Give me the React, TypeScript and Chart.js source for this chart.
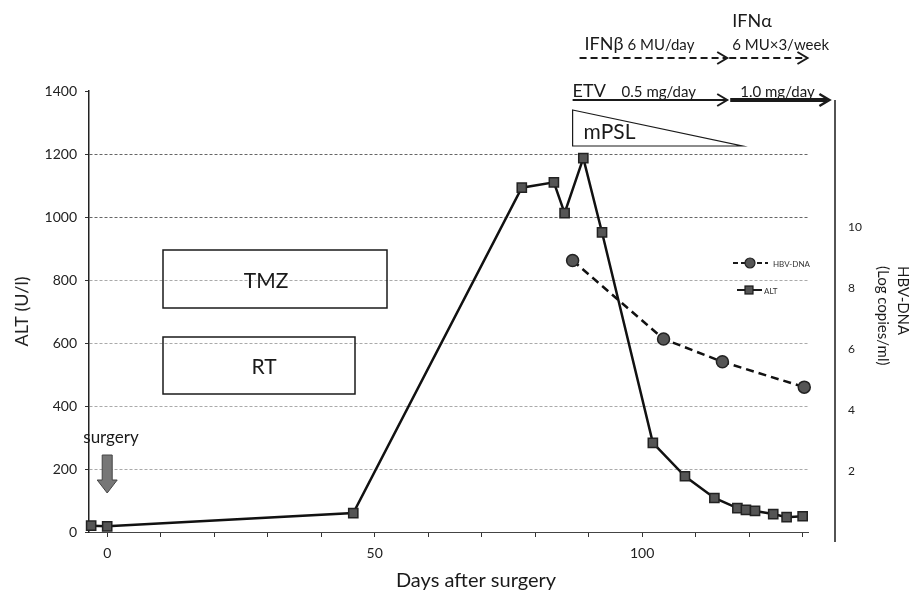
import React, { useEffect, useRef } from "react";
import { Chart, registerables } from "chart.js";

Chart.register(...registerables);

// ---- data ----
const altDays = [-3, 0, 46, 77.5, 83.5, 85.5, 89, 92.5, 102, 108, 113.5, 117.8, 119.4, 121.1, 124.5, 127, 130];
const altValues = [20, 18, 60, 1093, 1110, 1012, 1187, 951, 283, 177, 108, 76, 70, 67, 57, 47, 50];
const hbvDays = [87, 104, 115, 130.3];
const hbvValues = [8.9, 6.33, 5.58, 4.75];
const xTicks = [0, 10, 20, 30, 40, 50, 60, 70, 80, 90, 100, 110, 120, 130];
const xLabelled = [0, 50, 100];
const altTicks = [0, 200, 400, 600, 800, 1000, 1200, 1400];
const hbvTicks = [2, 4, 6, 8, 10];

// treatment periods (days after surgery)
const ifnbStart = 88.3;
const ifnSwitch = 115.9;
const ifnEnd = 130.9;
const etvStart = 87;
const etvSwitch = 115.9;
const etvEnd = 135;
const mpslStart = 87;
const mpslEnd = 118.7;
const surgeryDay = 0;

const FONT = "Lato, 'Open Sans', 'DejaVu Sans', sans-serif";

function chevron(ctx: CanvasRenderingContext2D, tipX: number, y: number, w: number) {
  ctx.save();
  ctx.setLineDash([]);
  ctx.lineWidth = w;
  ctx.beginPath();
  ctx.moveTo(tipX - 10, y - 6);
  ctx.lineTo(tipX, y);
  ctx.lineTo(tipX - 10, y + 6);
  ctx.stroke();
  ctx.restore();
}

export default function App() {
  const ref = useRef<HTMLCanvasElement>(null);

  useEffect(() => {
    const canvas = ref.current!;
    const annot = {
      id: "annot",
      afterDraw(chart: any) {
        const ctx: CanvasRenderingContext2D = chart.ctx;
        const xs = chart.scales.x;
        const X = (d: number) => xs.getPixelForValue(d);
        const ink = "#1a1a1a";
        ctx.save();
        ctx.fillStyle = ink;
        ctx.strokeStyle = ink;

        // right axis line (offset from plot)
        ctx.lineWidth = 1.5;
        ctx.beginPath();
        ctx.moveTo(835, 100);
        ctx.lineTo(835, 542);
        ctx.stroke();

        // right axis title
        ctx.save();
        ctx.translate(903, 266);
        ctx.rotate(Math.PI / 2);
        ctx.font = `15px ${FONT}`;
        ctx.textAlign = "left";
        ctx.textBaseline = "middle";
        ctx.fillText("HBV-DNA", 0, 0);
        ctx.fillText("(Log copies/ml)", 0, 20);
        ctx.restore();

        // x title
        ctx.font = `20px ${FONT}`;
        ctx.textAlign = "center";
        ctx.textBaseline = "middle";
        ctx.fillText("Days after surgery", 476, 581);

        // TMZ / RT boxes
        ctx.lineWidth = 1.5;
        ctx.strokeRect(163, 250, 224, 58);
        ctx.strokeRect(163, 337, 192, 57);
        ctx.font = `21px ${FONT}`;
        ctx.fillText("TMZ", 266, 281);
        ctx.fillText("RT", 264, 367);

        // surgery
        ctx.font = `17px ${FONT}`;
        ctx.fillText("surgery", 111, 438);
        const sx = X(surgeryDay);
        ctx.fillStyle = "#777";
        ctx.strokeStyle = "#444";
        ctx.lineWidth = 1;
        ctx.beginPath();
        ctx.moveTo(sx - 5, 455);
        ctx.lineTo(sx + 5, 455);
        ctx.lineTo(sx + 5, 480);
        ctx.lineTo(sx + 10, 480);
        ctx.lineTo(sx, 493);
        ctx.lineTo(sx - 10, 480);
        ctx.lineTo(sx - 5, 480);
        ctx.closePath();
        ctx.fill();
        ctx.stroke();
        ctx.fillStyle = ink;
        ctx.strokeStyle = ink;

        // IFN annotations
        ctx.textAlign = "left";
        ctx.font = `18px ${FONT}`;
        ctx.fillText("IFNα", X(ifnSwitch) + 5, 21);
        ctx.fillText("IFNβ", X(ifnbStart) + 5, 44);
        const wB = ctx.measureText("IFNβ").width;
        ctx.font = `15px ${FONT}`;
        ctx.fillText("6 MU/day", X(ifnbStart) + 5 + wB + 4, 45);
        ctx.fillText("6 MU×3/week", X(ifnSwitch) + 5, 45);
        ctx.lineWidth = 2.2;
        ctx.setLineDash([7, 4]);
        ctx.beginPath();
        ctx.moveTo(X(ifnbStart), 58);
        ctx.lineTo(X(ifnSwitch), 58);
        ctx.moveTo(X(ifnSwitch) + 2, 58);
        ctx.lineTo(X(ifnEnd), 58);
        ctx.stroke();
        ctx.setLineDash([]);
        chevron(ctx, X(ifnSwitch), 58, 2);
        chevron(ctx, X(ifnEnd), 58, 2);

        // ETV
        ctx.font = `18px ${FONT}`;
        ctx.fillText("ETV", X(etvStart), 91);
        ctx.font = `15px ${FONT}`;
        ctx.fillText("0.5 mg/day", X(etvStart) + 49, 92);
        ctx.fillText("1.0 mg/day", X(etvSwitch) + 13, 92);
        ctx.lineWidth = 2;
        ctx.beginPath();
        ctx.moveTo(X(etvStart), 100);
        ctx.lineTo(X(etvSwitch), 100);
        ctx.stroke();
        chevron(ctx, X(etvSwitch), 100, 2);
        ctx.lineWidth = 4;
        ctx.beginPath();
        ctx.moveTo(X(etvSwitch) + 3, 100);
        ctx.lineTo(X(etvEnd) - 2, 100);
        ctx.stroke();
        chevron(ctx, X(etvEnd), 100, 2.5);

        // mPSL triangle
        ctx.lineWidth = 1.2;
        ctx.beginPath();
        ctx.moveTo(X(mpslStart), 110);
        ctx.lineTo(X(mpslEnd), 146);
        ctx.lineTo(X(mpslStart), 146);
        ctx.closePath();
        ctx.stroke();
        ctx.font = `21px ${FONT}`;
        ctx.fillText("mPSL", X(mpslStart) + 11, 132);

        // legend
        ctx.lineWidth = 2;
        ctx.setLineDash([5, 3]);
        ctx.beginPath();
        ctx.moveTo(733, 263);
        ctx.lineTo(768, 263);
        ctx.stroke();
        ctx.setLineDash([]);
        ctx.fillStyle = "#555";
        ctx.strokeStyle = "#222";
        ctx.lineWidth = 1.2;
        ctx.beginPath();
        ctx.arc(750, 263, 5, 0, Math.PI * 2);
        ctx.fill();
        ctx.stroke();
        ctx.strokeStyle = ink;
        ctx.lineWidth = 2;
        ctx.beginPath();
        ctx.moveTo(737, 290);
        ctx.lineTo(762, 290);
        ctx.stroke();
        ctx.fillStyle = "#555";
        ctx.lineWidth = 1.2;
        ctx.fillRect(745, 286, 8, 8);
        ctx.strokeRect(745, 286, 8, 8);
        ctx.fillStyle = "#333";
        ctx.font = `8px ${FONT}`;
        ctx.fillText("HBV-DNA", 773, 264);
        ctx.fillText("ALT", 764, 291);

        ctx.restore();
      },
    };

    const chart = new Chart(canvas, {
      type: "line",
      data: {
        datasets: [
          {
            label: "HBV-DNA",
            data: hbvDays.map((d, i) => ({ x: d, y: hbvValues[i] })),
            yAxisID: "y2",
            borderColor: "#111",
            borderWidth: 2.5,
            borderDash: [8, 5],
            pointStyle: "circle",
            pointRadius: 6,
            pointBackgroundColor: "#555",
            pointBorderColor: "#222",
            pointBorderWidth: 1.5,
            tension: 0,
            clip: false,
          },
          {
            label: "ALT",
            data: altDays.map((d, i) => ({ x: d, y: altValues[i] })),
            yAxisID: "y",
            borderColor: "#111",
            borderWidth: 2.5,
            pointStyle: "rect",
            pointRadius: 6.5,
            pointBackgroundColor: "#555",
            pointBorderColor: "#222",
            pointBorderWidth: 1.5,
            tension: 0,
            clip: false,
          },
        ],
      },
      options: {
        animation: false,
        responsive: false,
        devicePixelRatio: 1,
        layout: { padding: { top: 91, left: 0, right: 0, bottom: 0 } },
        plugins: { legend: { display: false }, tooltip: { enabled: false } },
        scales: {
          x: {
            type: "linear",
            min: -3.4,
            max: 131,
            afterBuildTicks: (s: any) => {
              s.ticks = xTicks.map((v) => ({ value: v }));
            },
            afterFit: (s: any) => {
              s.height = 61;
            },
            ticks: {
              autoSkip: false,
              maxRotation: 0,
              padding: 8,
              font: { family: FONT, size: 14 },
              color: "#222",
              callback: (v: any) => (xLabelled.includes(Number(v)) ? String(v) : ""),
            },
            grid: { drawOnChartArea: false, drawTicks: true, tickLength: 5, tickColor: "#333", color: "#333" },
            border: { color: "#444", width: 1 },
          },
          y: {
            position: "left",
            min: 0,
            max: 1400,
            afterBuildTicks: (s: any) => {
              s.ticks = altTicks.map((v) => ({ value: v }));
            },
            afterFit: (s: any) => {
              s.width = 89;
            },
            ticks: {
              padding: 8,
              font: { family: FONT, size: 14 },
              color: "#222",
              callback: (v: any) => String(v),
            },
            grid: {
              color: (c: any) => {
                const v = c.tick ? c.tick.value : 0;
                if (v === 0 || v === 1400) return "rgba(0,0,0,0)";
                return v >= 1000 ? "#666" : "#aaa";
              },
              tickColor: "#333",
              tickLength: 4,
              drawTicks: true,
            },
            border: { color: "#222", width: 1.5, dash: [3, 2] },
            title: {
              display: true,
              text: "ALT (U/l)",
              font: { family: FONT, size: 18 },
              color: "#222",
              padding: { top: 11, bottom: 0 },
            },
          },
          y2: {
            position: "right",
            min: 0,
            max: 14.46,
            afterBuildTicks: (s: any) => {
              s.ticks = hbvTicks.map((v) => ({ value: v }));
            },
            afterFit: (s: any) => {
              s.width = 111;
            },
            grid: { display: false, drawOnChartArea: false, drawTicks: false },
            border: { display: false },
            ticks: { padding: 40, font: { family: FONT, size: 12 }, color: "#222" },
          },
        },
      } as any,
      plugins: [annot],
    });
    return () => chart.destroy();
  }, []);

  return (
    <div style={{ position: "fixed", left: 0, top: 0, width: 919, height: 593, background: "#fff" }}>
      <canvas ref={ref} width={919} height={593} style={{ display: "block" }} />
    </div>
  );
}
